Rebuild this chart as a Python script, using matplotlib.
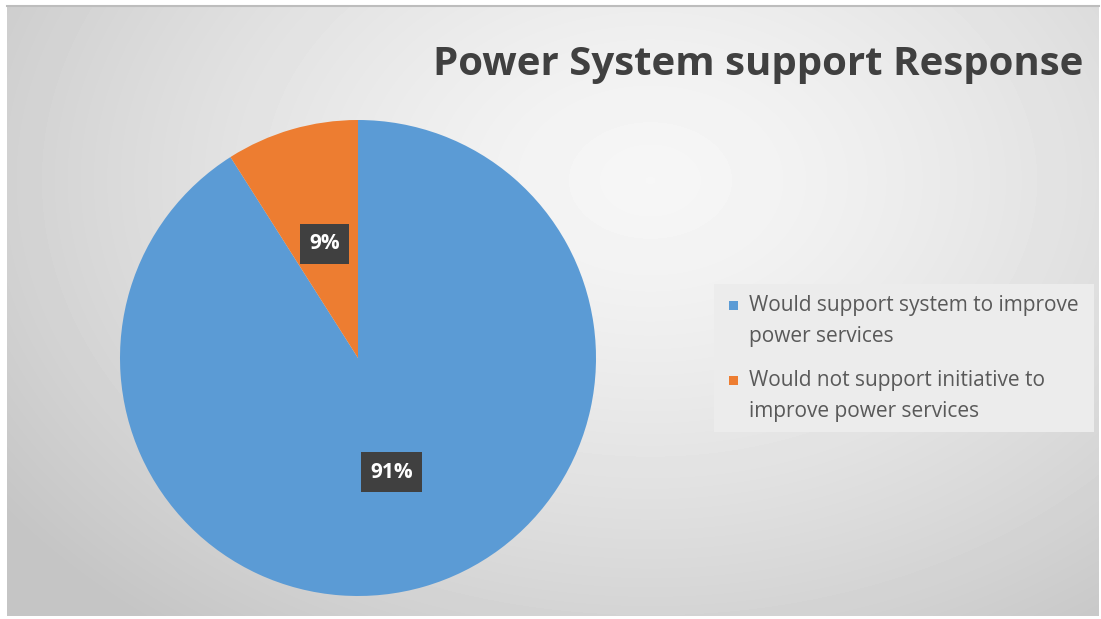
import matplotlib.pyplot as plt
from matplotlib.patches import Rectangle
import numpy as np

W, H = 1101, 619

title = "Power System support Response"
responses = ["Would support system to improve\npower services",
             "Would not support initiative to\nimprove power services"]
shares = [91, 9]
colors = ["#5b9bd5", "#ed7d31"]

fig = plt.figure(figsize=(W / 100, H / 100), dpi=100)

# backdrop axes in pixel units (y down)
bg = fig.add_axes([0, 0, 1, 1])
bg.set_xlim(0, W)
bg.set_ylim(H, 0)
bg.axis("off")

# radial grey gradient for the chart area
x0, x1, y0, y1 = 7, 1099, 5, 616
yy, xx = np.mgrid[y0:y1, x0:x1]
d = np.hypot(xx - 650, (yy - 180) * 1.4) / 800
shade = 0.965 - 0.195 * np.clip(d, 0, 1) ** 1.4
bg.imshow(shade, cmap="gray", vmin=0, vmax=1, extent=(x0, x1, y1, y0),
          aspect="auto", interpolation="bilinear")
bg.plot([x0, x1], [y0 + 0.5, y0 + 0.5], color="#bdbdbd", lw=1.5)

# pie
cx, cy, r = 358, 358, 238
ax = fig.add_axes([(cx - r) / W, (H - cy - r) / H, 2 * r / W, 2 * r / H])
wedges, texts, autotexts = ax.pie(
    shares, colors=colors, startangle=90, counterclock=False,
    autopct=lambda p: f"{p:.0f}%", pctdistance=0.5,
    wedgeprops=dict(linewidth=0),
    textprops=dict(color="white", fontsize=15, fontweight="bold",
                   family="Open Sans"))
for t in autotexts:
    t.set_bbox(dict(boxstyle="square,pad=0.45", fc="#404040", ec="none"))
ax.set_xlim(-1, 1)
ax.set_ylim(-1, 1)
ax.axis("off")

fig.text(1083 / W, 1 - 65 / H, title, ha="right", va="center",
         fontsize=29, fontweight="bold", color="#404040", family="Open Sans")

# legend
bg.add_patch(Rectangle((714, 284), 380, 148, fc="#ececec", ec="none"))
for i, (lab, c) in enumerate(zip(responses, colors)):
    ty = 295 + i * 75
    bg.add_patch(Rectangle((729, ty + 6), 9, 9, fc=c, ec="none"))
    bg.text(749, ty, lab, ha="left", va="top", fontsize=15,
            color="#595959", family="Open Sans", linespacing=1.6)

fig.savefig("out.png", dpi=100)
